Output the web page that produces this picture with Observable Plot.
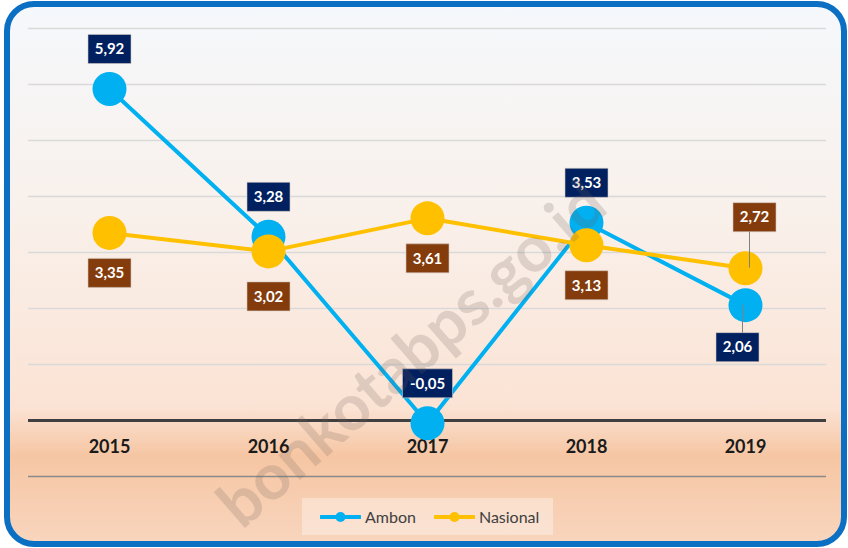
<!DOCTYPE html>
<html>
<head>
<meta charset="utf-8">
<script src="https://cdn.jsdelivr.net/npm/d3@7"></script>
<script src="https://cdn.jsdelivr.net/npm/@observablehq/plot@0.6"></script>
<style>
  html, body { margin: 0; padding: 0; background: #ffffff; }
  #wrap { position: relative; width: 848px; height: 548px; overflow: hidden; font-family: Lato, "Open Sans", sans-serif; }
  #bg {
    position: absolute; left: 4px; top: 1px; width: 843px; height: 546px;
    box-sizing: border-box; border: 6px solid #0b6fc3; border-radius: 30px;
    background: linear-gradient(to bottom, #f5f8fc 0%, #f9f0ea 40%, #fbe3d4 75%, #f6c6a3 84%, #f8d5bd 100%);
  }
  #chart { position: absolute; left: 0; top: 0; }
  #legend {
    position: absolute; left: 302px; top: 498px; width: 251px; height: 37px;
    background: rgba(255, 255, 255, 0.35);
    display: flex; align-items: center; padding-left: 18px; box-sizing: border-box;
    font-family: Lato, "Open Sans", sans-serif; font-size: 16px; color: #404040;
  }
  #legend .item { display: flex; align-items: center; }
  #legend .item + .item { margin-left: 18px; }
  #legend svg { margin-right: 4px; }
  #wm {
    position: absolute; left: 410px; top: 352px; transform: translate(-50%, -50%) rotate(-41deg);
    font-family: Lato, "Open Sans", sans-serif; font-weight: 700; font-size: 64px;
    color: rgba(110, 95, 88, 0.2); white-space: nowrap; pointer-events: none;
  }
</style>
</head>
<body>
<div id="wrap">
  <div id="bg"></div>
  <div id="chart"></div>
  <div id="legend"></div>
  <div id="wm">bonkotabps.go.id</div>
</div>
<script>
// ---- data ----
const years = ["2015", "2016", "2017", "2018", "2019"];
const ambon = [5.92, 3.28, -0.05, 3.53, 2.06];
const nasional = [3.35, 3.02, 3.61, 3.13, 2.72];
const yTicks = [-1, 0, 1, 2, 3, 4, 5, 6, 7];
const seriesNames = ["Ambon", "Nasional"];
const seriesColors = ["#00b0f0", "#ffc000"];
const labelFills = ["#002060", "#843c0c"];

const fmt = v => v.toFixed(2).replace(".", ",");
const ambonData = years.map((year, i) => ({year, value: ambon[i], i, label: fmt(ambon[i])}));
const nasData = years.map((year, i) => ({year, value: nasional[i], i, label: fmt(nasional[i])}));

function boxSymbol(w, h) {
  return {
    draw(ctx) {
      ctx.moveTo(-w / 2, -h / 2);
      ctx.lineTo(w / 2, -h / 2);
      ctx.lineTo(w / 2, h / 2);
      ctx.lineTo(-w / 2, h / 2);
      ctx.closePath();
    }
  };
}

function labelMarks(data, fill, placement) {
  return data.flatMap(d => {
    const {dx, dy} = placement(d);
    const w = 15 + 7 * d.label.length;
    return [
      Plot.dot([d], {x: "year", y: "value", dx, dy, symbol: boxSymbol(w, 29), fill, stroke: "#d0c8c0", strokeWidth: 0.6}),
      Plot.text([d], {x: "year", y: "value", dx, dy: dy + 0.5, text: "label", fill: "#ffffff",
        fontWeight: 700, fontSize: 15, fontFamily: "Lato, 'Open Sans', sans-serif"})
    ];
  });
}

const last = years.length - 1;

const chart = Plot.plot({
  width: 848,
  height: 490,
  marginLeft: 28,
  marginRight: 22,
  marginTop: 28,
  marginBottom: 14,
  style: {background: "transparent", overflow: "visible", fontFamily: "Lato, 'Open Sans', sans-serif"},
  x: {type: "point", domain: years, padding: 0.5, axis: null, label: null},
  y: {domain: [-1, 7], axis: null, label: null},
  marks: [
    Plot.ruleY(yTicks.filter(t => t > 0), {stroke: "#d9d9d9", strokeWidth: 1.5}),
    Plot.ruleY(yTicks.filter(t => t < 0), {stroke: "#8a8a8a", strokeWidth: 1.3}),
    Plot.ruleY(yTicks.filter(t => t === 0), {stroke: "#404040", strokeWidth: 3}),
    Plot.axisX({anchor: "bottom", label: null, tickSize: 0, tickPadding: -36, fontSize: 18, fontWeight: 700, fill: "#1a1a1a"}),
    Plot.line(ambonData, {x: "year", y: "value", stroke: seriesColors[0], strokeWidth: 4}),
    Plot.dot(ambonData, {x: "year", y: "value", r: 17, fill: seriesColors[0]}),
    Plot.line(nasData, {x: "year", y: "value", stroke: seriesColors[1], strokeWidth: 4}),
    Plot.dot(nasData, {x: "year", y: "value", r: 17, fill: seriesColors[1]}),
    // leader lines for the last year
    Plot.ruleX(ambonData.filter(d => d.i === last), {x: "year", y1: "value", y2: d => d.value - 0.52, dx: -3, stroke: "#808080", strokeWidth: 1}),
    Plot.ruleX(nasData.filter(d => d.i === last), {x: "year", y1: "value", y2: d => d.value + 0.66, dx: 4, stroke: "#808080", strokeWidth: 1}),
    ...labelMarks(ambonData, labelFills[0], d => d.i === last ? {dx: -8, dy: 42} : {dx: 0, dy: -40}),
    ...labelMarks(nasData, labelFills[1], d => d.i === last ? {dx: 9, dy: -51} : {dx: 0, dy: d.i === 1 ? 45 : 40})
  ]
});
document.getElementById("chart").appendChild(chart);

// legend
const legend = document.getElementById("legend");
seriesNames.forEach((name, k) => {
  const item = document.createElement("div");
  item.className = "item";
  item.innerHTML = `<svg width="41" height="14"><line x1="1" x2="40" y1="7" y2="7" stroke="${seriesColors[k]}" stroke-width="4" stroke-linecap="round"/><circle cx="20.5" cy="7" r="5" fill="${seriesColors[k]}"/></svg><span>${name}</span>`;
  legend.appendChild(item);
});
</script>
</body>
</html>
